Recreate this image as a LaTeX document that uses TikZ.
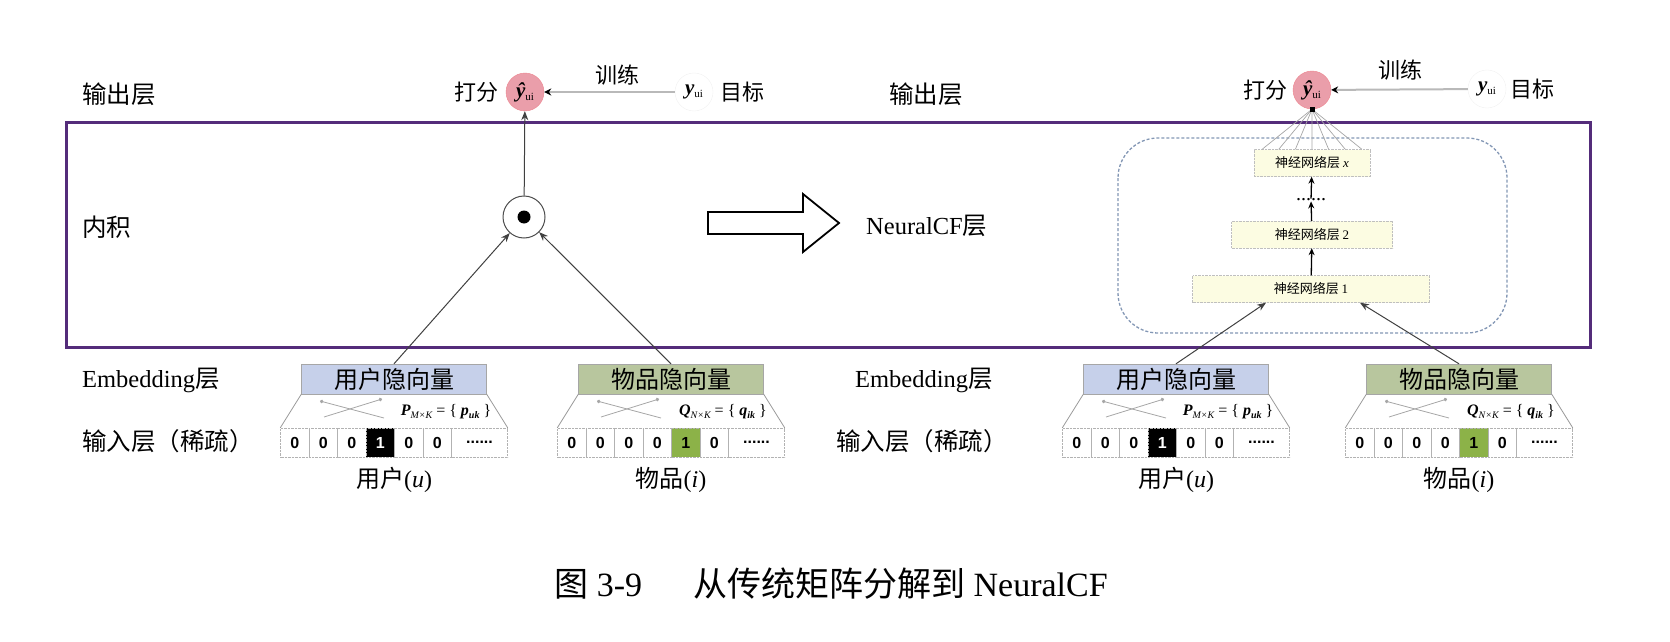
\documentclass[tikz,border=0pt]{standalone}
\usepackage{fontspec}
\setmainfont{Liberation Serif}
\newfontfamily\cjk{Noto Sans CJK SC}
\newfontfamily\lsans{Liberation Sans}
\usetikzlibrary{arrows.meta,calc}
\definecolor{frame}{RGB}{84,44,122}
\definecolor{pinkc}{RGB}{234,158,170}
\definecolor{bluebox}{RGB}{198,208,234}
\definecolor{greenbox}{RGB}{184,198,158}
\definecolor{greencell}{RGB}{140,178,72}
\definecolor{layerfill}{RGB}{252,252,226}
\definecolor{ncfborder}{RGB}{130,150,180}
\newcommand{\fs}[1]{\fontsize{#1}{#1}\selectfont}
\tikzset{
  side/.style={anchor=west, inner sep=0pt, font=\fs{24.5}},
  lab/.style={inner sep=0pt, font=\fs{22}},
  botlab/.style={inner sep=0pt, font=\fs{24}},
  yhat/.style={circle, fill=pinkc, draw=pinkc!85!red, minimum size=38pt, inner sep=0pt},
  tgt/.style={circle, draw=gray!12, minimum size=38pt, inner sep=0pt},
  embbox/.style={draw=gray!70, minimum width=185pt, minimum height=30pt, inner sep=0pt, font=\cjk\fs{24}},
  cellbox/.style={draw=gray!60, densely dotted, minimum width=28.5pt, minimum height=29pt, inner sep=0pt, font=\lsans\bfseries\fs{16}},
  trap/.style={draw=gray!80, line width=0.8pt},
  xarr/.style={draw=gray!70, line width=0.8pt, -{Circle[length=3.5pt]}},
  formula/.style={inner sep=0pt, font=\fs{16}},
  layerbox/.style={draw=gray!50, densely dotted, fill=layerfill, inner sep=0pt, minimum height=27pt, font=\cjk\fs{13}},
  conn/.style={draw=black!75, line width=1pt, -{Stealth[length=9pt,width=7pt]}},
  uparr/.style={draw=black, line width=1.3pt, -{Stealth[length=7pt,width=6pt]}},
  train/.style={draw=gray!55, line width=2pt, -{Stealth[length=7pt,width=7pt,black]}},
  fan/.style={draw=gray!70, line width=0.7pt},
}
% #1 name, #2 cx, #3 title, #4 box fill, #5 formula, #6 hi index, #7 hi style, #8 label
\newcommand{\embblock}[8]{%
  \node[embbox, fill=#4] (#1) at (#2,379) {#3};
  \foreach \k in {0,...,5}{%
    \ifnum\k=#6\relax
      \node[cellbox,#7] (#1c\k) at ({#2-113.5+28.5*\k+14.25},442.5) {1};
    \else
      \node[cellbox] (#1c\k) at ({#2-113.5+28.5*\k+14.25},442.5) {0};
    \fi
  }
  \node[cellbox, minimum width=56pt] (#1c6) at ({#2+85.5},442.5) {......};
  \draw[trap] (#1.south west) -- (#1c0.north west);
  \draw[trap] (#1.south east) -- (#1c6.north east);
  \draw[xarr] ({#2-10},418) -- ({#2-74},401);
  \draw[xarr] ({#2-70},417) -- ({#2-12},399);
  \node[formula] (#1f) at ({#2+52},412) {#5};
  \node[botlab] (#1lab) at (#2,480) {#8};
}
\begin{document}
\begin{tikzpicture}[x=1pt,y=-1pt]
\useasboundingbox (0,0) rectangle (1670,642);
% frame
\draw[frame, line width=3pt] (66,122) rectangle (1590,347);
% side labels
\node[side] (outL) at (82,94) {\cjk 输出层};
\node[side] (ipL) at (82,227) {\cjk 内积};
\node[side] (embL) at (82,380) {Embedding{\cjk 层}};
\node[side] (inL) at (82,441) {\cjk 输入层（稀疏）};
\node[side] (outR) at (889,94) {\cjk 输出层};
\node[side] (ncfR) at (866,226) {NeuralCF{\cjk 层}};
\node[side] (embR) at (855,380) {Embedding{\cjk 层}};
\node[side] (inR) at (836,441) {\cjk 输入层（稀疏）};
% left output
\node[yhat] (yhL) at (525,92) {{\fs{21}\bfseries\itshape ŷ}\raisebox{-3pt}{\fs{11}ui}};
\node[lab, anchor=east] (scoreL) at (499,92) {\cjk 打分};
\node[tgt] (tgtL) at (694,92) {{\fs{21}\bfseries\itshape y}\raisebox{-3pt}{\fs{11}ui}};
\node[lab, anchor=west] (tgtLt) at (720,92) {\cjk 目标};
\node[lab] (trainL) at (617,75) {\cjk 训练};
\draw[train] (tgtL) -- (yhL);
% inner product
\node[circle, draw=black!70, line width=1pt, minimum size=42pt, inner sep=0pt] (dotc) at (524,217) {};
\node[circle, fill=black, minimum size=13pt, inner sep=0pt] (dotcin) at (dotc.center) {};
\draw[conn] (dotc) -- (yhL);
% left embedding blocks
\embblock{uL}{394}{用户隐向量}{bluebox}{{\bfseries\itshape P}\raisebox{-3pt}{\fs{10}\itshape M×K} = \{ {\bfseries\itshape p}\raisebox{-3pt}{\fs{10}\bfseries\itshape uk} \}}{3}{fill=black,text=white}{{\cjk 用户}(\textit{u})}
\embblock{iL}{671}{物品隐向量}{greenbox}{{\bfseries\itshape Q}\raisebox{-3pt}{\fs{10}\itshape N×K} = \{ {\bfseries\itshape q}\raisebox{-3pt}{\fs{10}\bfseries\itshape ik} \}}{4}{fill=greencell}{{\cjk 物品}(\textit{i})}
\draw[conn] (uL.north) -- (dotc);
\draw[conn] (iL.north) -- (dotc);
% hollow arrow
\draw[line width=1.8pt, line join=miter] (708,212) -- (803,212) -- (803,194) -- (839,223) -- (803,252) -- (803,234) -- (708,234) -- cycle;
% right output
\node[yhat] (yhR) at (1312,90) {{\fs{21}\bfseries\itshape ŷ}\raisebox{-3pt}{\fs{11}ui}};
\node[lab, anchor=east] (scoreR) at (1288,90) {\cjk 打分};
\node[tgt] (tgtR) at (1487,89) {{\fs{21}\bfseries\itshape y}\raisebox{-3pt}{\fs{11}ui}};
\node[lab, anchor=west] (tgtRt) at (1510,89) {\cjk 目标};
\node[lab] (trainR) at (1400,70) {\cjk 训练};
\draw[train] (tgtR) -- (yhR);
% NeuralCF block
\draw[draw=ncfborder, line width=1.3pt, densely dashed, rounded corners=40pt] (1118,138) rectangle (1507,333);
\node[layerbox, minimum width=116pt] (Lx) at (1312,163) {神经网络层 {\rmfamily\itshape x}};
\node[layerbox, minimum width=161pt] (L2) at (1312,234.5) {神经网络层 {\rmfamily 2}};
\node[layerbox, minimum width=237pt] (L1) at (1311,289) {神经网络层 {\rmfamily 1}};
\node[inner sep=0pt, font=\fs{20}] (dots) at (1311,200) {......};
\draw[uparr] (L1) -- (L2);
\draw[uparr] (L2) -- (dots);
\draw[uparr] (dots) -- (Lx);
\foreach \k [evaluate=\k as \f using (\k+0.5)/7] in {0,...,6}
  \draw[fan] (yhR.south) -- ($(Lx.north west)!\f!(Lx.north east)$);
\node[fill=black, minimum size=5pt, inner sep=0pt] (sq) at (yhR.south) {};
% right embedding blocks
\embblock{uR}{1176}{用户隐向量}{bluebox}{{\bfseries\itshape P}\raisebox{-3pt}{\fs{10}\itshape M×K} = \{ {\bfseries\itshape p}\raisebox{-3pt}{\fs{10}\bfseries\itshape uk} \}}{3}{fill=black,text=white}{{\cjk 用户}(\textit{u})}
\embblock{iR}{1459}{物品隐向量}{greenbox}{{\bfseries\itshape Q}\raisebox{-3pt}{\fs{10}\itshape N×K} = \{ {\bfseries\itshape q}\raisebox{-3pt}{\fs{10}\bfseries\itshape ik} \}}{4}{fill=greencell}{{\cjk 物品}(\textit{i})}
\draw[conn] (uR.north) -- ($(L1.south)+(-45,0)$);
\draw[conn] (iR.north) -- ($(L1.south)+(49,0)$);
% caption
\node[inner sep=0pt, font=\fs{34}] (caption) at (831,584) {{\cjk 图} 3-9\hspace{1.5em}{\cjk 从传统矩阵分解到} NeuralCF};
\end{tikzpicture}
\end{document}
